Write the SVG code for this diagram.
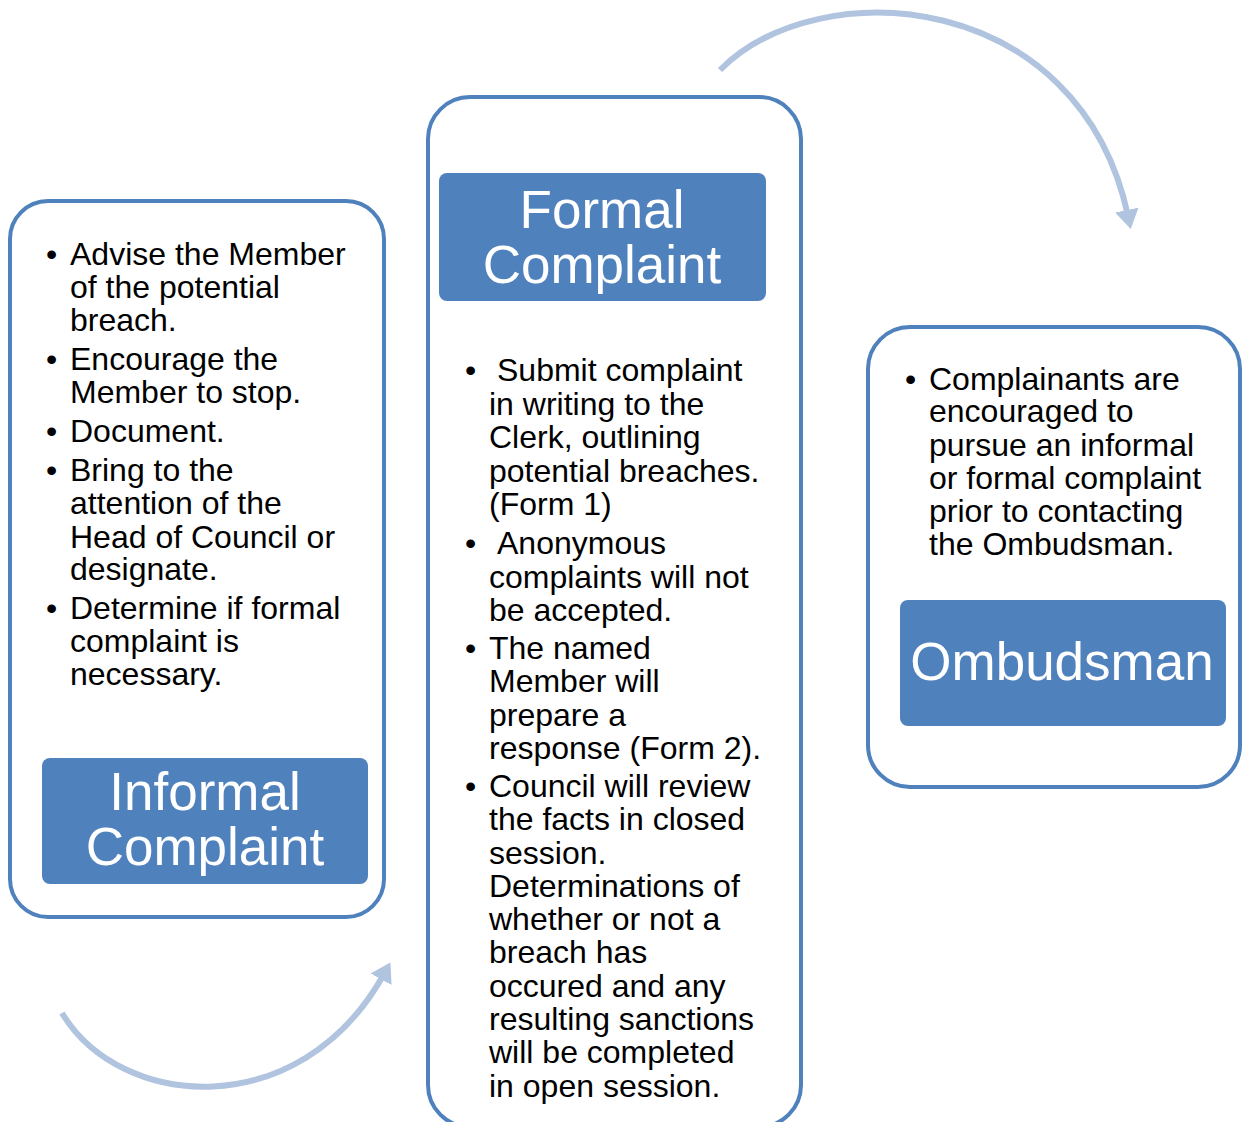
<svg xmlns="http://www.w3.org/2000/svg" width="1243" height="1122" viewBox="0 0 1243 1122">
<style>
.outer{fill:#ffffff;stroke:#4f81bd;stroke-width:4}
.inner{fill:#4f81bd}
.title{font-family:"Liberation Sans",Arial,sans-serif;font-size:53px;fill:#ffffff;text-anchor:middle}
.body{font-family:"Liberation Sans",Arial,sans-serif;font-size:32px;fill:#000000}
.conn{fill:none;stroke:#b0c3df;stroke-width:6}
</style>
<defs>
<marker id="ah" markerWidth="4" markerHeight="4" refX="1" refY="2" orient="auto" markerUnits="strokeWidth">
<path d="M0,0 L3.2,2 L0,4 Z" fill="#b0c3df"/>
</marker>
</defs>
<rect width="1243" height="1122" fill="#ffffff"/>
<g id="connectors">
<path class="conn" d="M720,70 C820,-30 1080,-10 1128,216" marker-end="url(#ah)"/>
<path class="conn" d="M62,1013 C120,1110 300,1125 384,974" marker-end="url(#ah)"/>
</g>
<g id="informal">
<rect class="outer" x="10" y="201" width="374" height="716" rx="38"/>
<rect class="inner" x="42" y="758" width="326" height="126" rx="8"/>
<text class="title" x="205" y="810">Informal</text>
<text class="title" x="205" y="865">Complaint</text>
<g class="body">
<text x="46" y="265">•</text><text x="70" y="265">Advise the Member</text>
<text x="70" y="298">of the potential</text>
<text x="70" y="331">breach.</text>
<text x="46" y="370">•</text><text x="70" y="370">Encourage the</text>
<text x="70" y="403">Member to stop.</text>
<text x="46" y="442">•</text><text x="70" y="442">Document.</text>
<text x="46" y="481">•</text><text x="70" y="481">Bring to the</text>
<text x="70" y="514">attention of the</text>
<text x="70" y="548">Head of Council or</text>
<text x="70" y="580">designate.</text>
<text x="46" y="619">•</text><text x="70" y="619">Determine if formal</text>
<text x="70" y="652">complaint is</text>
<text x="70" y="685">necessary.</text>
</g>
</g>
<g id="formal">
<rect class="outer" x="428" y="97" width="373" height="1030" rx="42"/>
<rect class="inner" x="439" y="173" width="327" height="128" rx="8"/>
<text class="title" x="602" y="228">Formal</text>
<text class="title" x="602" y="283">Complaint</text>
<g class="body">
<text x="465" y="381">•</text><text x="497" y="381">Submit complaint</text>
<text x="489" y="415">in writing to the</text>
<text x="489" y="448">Clerk, outlining</text>
<text x="489" y="482">potential breaches.</text>
<text x="489" y="515">(Form 1)</text>
<text x="465" y="554">•</text><text x="497" y="554">Anonymous</text>
<text x="489" y="588">complaints will not</text>
<text x="489" y="621">be accepted.</text>
<text x="465" y="659">•</text><text x="489" y="659">The named</text>
<text x="489" y="692">Member will</text>
<text x="489" y="726">prepare a</text>
<text x="489" y="759">response (Form 2).</text>
<text x="465" y="797">•</text><text x="489" y="797">Council will review</text>
<text x="489" y="830">the facts in closed</text>
<text x="489" y="864">session.</text>
<text x="489" y="897">Determinations of</text>
<text x="489" y="930">whether or not a</text>
<text x="489" y="963">breach has</text>
<text x="489" y="997">occured and any</text>
<text x="489" y="1030">resulting sanctions</text>
<text x="489" y="1063">will be completed</text>
<text x="489" y="1097">in open session.</text>
</g>
</g>
<g id="ombudsman">
<rect class="outer" x="868" y="327" width="372" height="460" rx="42"/>
<rect class="inner" x="900" y="600" width="326" height="126" rx="8"/>
<text class="title" x="1062" y="680">Ombudsman</text>
<g class="body">
<text x="905" y="390">•</text><text x="929" y="390">Complainants are</text>
<text x="929" y="422">encouraged to</text>
<text x="929" y="456">pursue an informal</text>
<text x="929" y="489">or formal complaint</text>
<text x="929" y="522">prior to contacting</text>
<text x="929" y="555">the Ombudsman.</text>
</g>
</g>
</svg>
